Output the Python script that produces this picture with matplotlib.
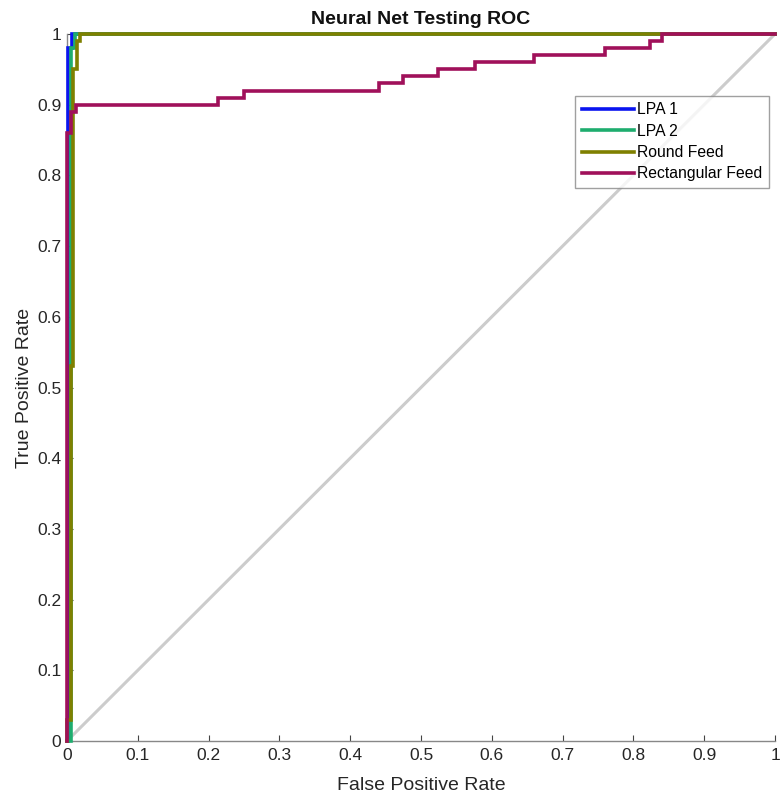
import matplotlib
matplotlib.use("Agg")
import matplotlib.pyplot as plt
import numpy as np

plt.rcParams['font.family'] = ['Liberation Sans', 'DejaVu Sans']

# ROC data
lpa1_fpr = [0, 0.002, 0.002, 0.007, 0.007, 1]
lpa1_tpr = [0, 0, 0.98, 0.98, 1, 1]

lpa2_fpr = [0, 0.006, 0.006, 0.011, 0.011, 1]
lpa2_tpr = [0, 0, 0.98, 0.98, 1, 1]

round_fpr = [0, 0, 0.006, 0.006, 0.009, 0.009, 0.014, 0.014, 0.018, 0.018, 1]
round_tpr = [0, 0.03, 0.03, 0.53, 0.53, 0.95, 0.95, 0.99, 0.99, 1, 1]

rect_fpr = [0, 0, 0.006, 0.006, 0.013, 0.013, 0.213, 0.213, 0.25, 0.25,
            0.44, 0.44, 0.474, 0.474, 0.524, 0.524, 0.576, 0.576,
            0.66, 0.66, 0.76, 0.76, 0.823, 0.823, 0.84, 0.84, 1]
rect_tpr = [0, 0.86, 0.86, 0.89, 0.89, 0.90, 0.90, 0.91, 0.91, 0.92,
            0.92, 0.93, 0.93, 0.94, 0.94, 0.95, 0.95, 0.96,
            0.96, 0.97, 0.97, 0.98, 0.98, 0.99, 0.99, 1.0, 1.0]

labels = ['LPA 1', 'LPA 2', 'Round Feed', 'Rectangular Feed']
colors = ['#0A14F0', '#1EAD6E', '#7F8000', '#A0105A']
ticks = [0, 0.1, 0.2, 0.3, 0.4, 0.5, 0.6, 0.7, 0.8, 0.9, 1]
tick_labels = ['0', '0.1', '0.2', '0.3', '0.4', '0.5', '0.6', '0.7', '0.8', '0.9', '1']

fig = plt.figure(figsize=(7.82, 8.01), dpi=100)
ax = fig.add_axes([67/782, 60/801, 708/782, 707/801])

ax.plot([0, 1], [0, 1], color='#CCCCCC', lw=2.2, zorder=1)

series = [(lpa1_fpr, lpa1_tpr), (lpa2_fpr, lpa2_tpr), (round_fpr, round_tpr), (rect_fpr, rect_tpr)]
for (fx, ty), lab, c in zip(series, labels, colors):
    ax.plot(fx, ty, color=c, lw=2.6, label=lab, clip_on=False, zorder=3,
            solid_joinstyle='miter')

ax.set_xlim(0, 1)
ax.set_ylim(0, 1)
ax.set_xticks(ticks)
ax.set_xticklabels(tick_labels)
ax.set_yticks(ticks)
ax.set_yticklabels(tick_labels)
ax.tick_params(direction='in', length=4, width=0.8, colors='#444444',
               labelcolor='#262626', labelsize=12.5)
ax.tick_params(axis='x', pad=5)
ax.tick_params(axis='y', pad=4)
for s in ['top', 'right']:
    ax.spines[s].set_visible(False)
for s in ['left', 'bottom']:
    ax.spines[s].set_color('#888888')
    ax.spines[s].set_linewidth(1.0)

ax.set_xlabel('False Positive Rate', fontsize=14, color='#262626', labelpad=10)
ax.set_ylabel('True Positive Rate', fontsize=14, color='#262626', labelpad=3)
ax.set_title('Neural Net Testing ROC', fontsize=14, fontweight='bold', color='#111111', pad=7)

leg = ax.legend(loc='upper right', bbox_to_anchor=(0.9915, 0.912), borderaxespad=0,
                fontsize=11.3, frameon=True, fancybox=False, handlelength=3.3,
                handletextpad=0.25, labelspacing=0.4, borderpad=0.4)
leg.get_frame().set_edgecolor('#888888')
leg.get_frame().set_linewidth(1.0)
for line in leg.get_lines():
    line.set_linewidth(2.6)

fig.savefig('out.png', dpi=100)
